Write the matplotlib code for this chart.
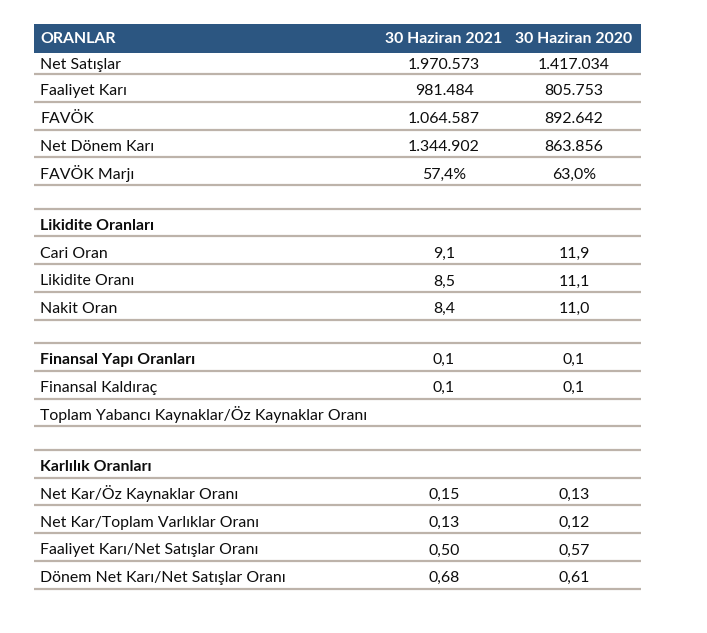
import matplotlib.pyplot as plt

# table content
header = ["ORANLAR", "30 Haziran 2021", "30 Haziran 2020"]

labels = [
    "Net Satışlar", "Faaliyet Karı", "FAVÖK", "Net Dönem Karı", "FAVÖK Marjı",
    "",
    "Likidite Oranları", "Cari Oran", "Likidite Oranı", "Nakit Oran",
    "",
    "Finansal Yapı Oranları", "Finansal Kaldıraç",
    "Toplam Yabancı Kaynaklar/Öz Kaynaklar Oranı",
    "",
    "Karlılık Oranları", "Net Kar/Öz Kaynaklar Oranı", "Net Kar/Toplam Varlıklar Oranı",
    "Faaliyet Karı/Net Satışlar Oranı", "Dönem Net Karı/Net Satışlar Oranı",
]
values_2021 = [
    "1.970.573", "981.484", "1.064.587", "1.344.902", "57,4%",
    "",
    "", "9,1", "8,5", "8,4",
    "",
    "0,1", "0,1", "",
    "",
    "", "0,15", "0,13", "0,50", "0,68",
]
values_2020 = [
    "1.417.034", "805.753", "892.642", "863.856", "63,0%",
    "",
    "", "11,9", "11,1", "11,0",
    "",
    "0,1", "0,1", "",
    "",
    "", "0,13", "0,12", "0,57", "0,61",
]
bold_rows = ["Likidite Oranları", "Finansal Yapı Oranları", "Karlılık Oranları"]

W, H = 707, 633
fig = plt.figure(figsize=(W / 100, H / 100), dpi=100)
ax = fig.add_axes([0, 0, 1, 1])
ax.set_xlim(0, W)
ax.set_ylim(H, 0)
ax.axis("off")

plt.rcParams['font.family'] = ['Lato', 'DejaVu Sans']
FS = 11.4

left, right = 34, 641
col1, col2 = 444, 574
head_top, head_bot = 23.5, 53
row_h, blank_h = 27.8, 23.3
line_c = "#bdb3aa"
head_c = "#2c5681"
txt_c = "#0d0d0d"

# header band
ax.add_patch(plt.Rectangle((left, head_top), right - left, head_bot - head_top,
                           color=head_c, lw=0))
hy = (head_top + head_bot) / 2 + 1
ax.text(40, hy, header[0], color="white", fontsize=FS, fontweight="bold", va="center")
ax.text(col1, hy, header[1], color="white", fontsize=FS, fontweight="bold",
        va="center", ha="center")
ax.text(col2, hy, header[2], color="white", fontsize=FS, fontweight="bold",
        va="center", ha="center")

y = head_bot
for i, lab in enumerate(labels):
    blank = lab == "" and values_2021[i] == ""
    h = blank_h if blank else (21 if i == 0 else row_h)
    bottom = y + h
    if not blank:
        base = bottom - (5 if i == 0 else 6.5)
        w = "bold" if lab in bold_rows else "normal"
        ax.text(40, base, lab, fontsize=FS, fontweight=w, va="baseline", color=txt_c)
        ax.text(col1, base, values_2021[i], fontsize=FS, va="baseline", ha="center",
                color=txt_c)
        ax.text(col2, base, values_2020[i], fontsize=FS, va="baseline", ha="center",
                color=txt_c)
    ax.plot([left, right], [bottom, bottom], color=line_c, lw=1.6, solid_capstyle="butt")
    y = bottom

fig.savefig("out.png", dpi=100, facecolor="white")
